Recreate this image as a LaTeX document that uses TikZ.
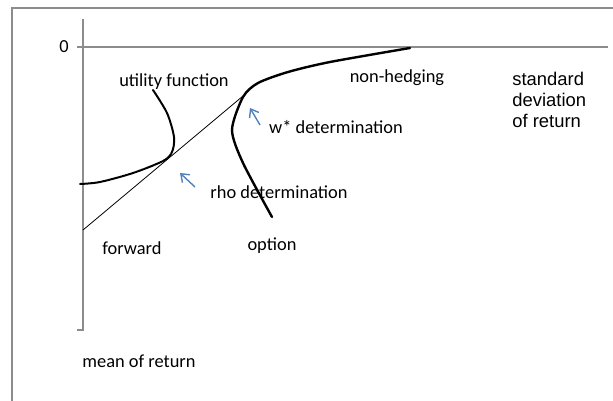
\documentclass[tikz,border=0pt]{standalone}
\usepackage{fontspec}
\setmainfont{Carlito}
\newfontfamily\arialfont{Liberation Sans}
\usetikzlibrary{arrows,arrows.meta}
\definecolor{axisgray}{RGB}{140,140,140}
\definecolor{tipblue}{RGB}{79,129,189}

\begin{document}
\begin{tikzpicture}[x=0.5pt,y=-0.5pt,
  axisline/.style={draw=axisgray,line width=1.1pt},
  curveline/.style={line width=1.2pt,line join=round,line cap=round},
  lbl/.style={font=\fontsize{9.2}{11}\selectfont,inner sep=0pt},
  pointer/.style={-{Straight Barb[length=3.6pt,width=5.4pt]},draw=tipblue,line width=0.7pt}]
  \useasboundingbox (0,0) rectangle (613,400);
  \clip (0,0) rectangle (613,400);
  % frame and axes
  \draw[axisline] (12,8) rectangle (640,430);
  \coordinate (xstart) at (77,47);
  \coordinate (xend) at (608,47);
  \coordinate (ytop) at (83,19);
  \coordinate (ybot) at (83,330);
  \draw[axisline] (xstart) -- (xend);
  \draw[axisline] (ytop) -- (ybot) -- ++(-6,0);
  % labels
  \node[lbl] (zero) at (64,47) {0};
  \node[lbl] (util) at (174,82) {utility function};
  \node[lbl] (nonhedge) at (397,78) {non-hedging};
  \node[lbl] (wstar) at (336,127) {w* determination};
  \node[lbl] (rho) at (279,192) {rho determination};
  \node[lbl] (opt) at (272,246) {option};
  \node[lbl] (fwd) at (132,248) {forward};
  \node[lbl] (mean) at (139,361) {mean of return};
  \node[lbl,font=\arialfont\fontsize{9.2}{10.5}\selectfont,align=left,anchor=north west]
    (sdev) at (512,72) {standard\\deviation\\of return};
  % tangent (forward) line
  \coordinate (fwdstart) at (83,230);
  \coordinate (touch) at (243,96);
  \draw[line width=0.4pt] (fwdstart) -- (touch);
  % option / non-hedging frontier
  \draw[curveline] plot[smooth,tension=0.45] coordinates
    {(410,48) (330,62) (288,72) (258,83) (243,97) (232,130) (243,163) (272,217)};
  % utility function
  \draw[curveline,line width=1pt,dash pattern=on 1.2pt off 0.25pt] plot[smooth,tension=0.5] coordinates
    {(153,90) (167,113) (174,137) (172,152) (163,161) (133,173) (100,182) (80,184)};
  % pointers
  \coordinate (wtail) at (260,125);
  \coordinate (whead) at (250,108);
  \coordinate (rtail) at (195,187);
  \coordinate (rhead) at (180,173);
  \draw[pointer] (wtail) -- (whead);
  \draw[pointer] (rtail) -- (rhead);
\end{tikzpicture}
\end{document}
